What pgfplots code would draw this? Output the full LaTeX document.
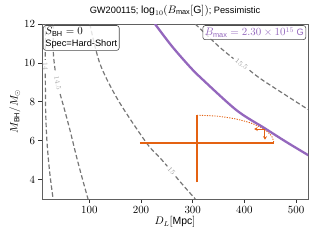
\documentclass[border=0pt]{standalone}
\usepackage{pgfplots}
\pgfplotsset{compat=1.18}
\usepackage{fontspec}
\setmainfont{Liberation Sans}
\usetikzlibrary{arrows.meta}
\definecolor{mpurple}{RGB}{148,103,189}
\definecolor{morange}{RGB}{228,98,18}
\definecolor{cgray}{RGB}{118,118,118}
\newcommand{\mm}[1]{{\fontsize{10.5}{12}\selectfont$#1$}}
\begin{document}
\begin{tikzpicture}
\useasboundingbox (-42bp,-41bp) rectangle (278bp,199bp);
\begin{axis}[
 at={(0,0)}, anchor=south west,
 scale only axis, width=266bp, height=175bp,
 xmin=8.5, xmax=523, ymin=3, ymax=12,
 xtick={100,200,300,400,500}, ytick={4,6,8,10,12},
 tick align=outside, tick pos=left,
 major tick length=3.5bp,
 axis line style={gray!75!black, line width=0.8pt},
 tick style={gray!40!black, line width=0.6pt},
 ticklabel style={font=\fontsize{10.5}{12}\selectfont},
 xlabel={$D_L[\mathrm{Mpc}]$}, ylabel={$M_{\mathrm{BH}}/M_\odot$},
 label style={font=\fontsize{10.5}{12}\selectfont},
 xlabel style={at={(axis description cs:0.5,-0.13)}, anchor=center},
 ylabel style={at={(axis description cs:-0.1015,0.5)}, anchor=center},
 title={GW200115; \mm{\log_{10}(B_{\max}[\mathrm{G}])}; Pessimistic},
 title style={font=\fontsize{9.3}{11}\selectfont, at={(axis description cs:0.5,1)}, anchor=south, yshift=0bp, inner sep=2bp},
 cstyle/.style={cgray, line width=1.2pt, dash pattern=on 4.5bp off 2.5bp, smooth},
]
% contours (broken where labels sit)
\addplot[cstyle] coordinates {(15.5,12) (14.9,10.8) (14.8,10.15)};
\addplot[cstyle] coordinates {(14.8,9.45) (15.0,9) (15.5,7.6) (17.5,6.2) (21,5) (25,4) (30,3)};
\addplot[cstyle] coordinates {(31,12) (30,11) (31,10.3) (34.5,9.5)};
\addplot[cstyle] coordinates {(43.5,8.4) (52.4,7.56) (63,6.5) (75,5.2) (86,4.1) (97.5,3)};
\addplot[cstyle] coordinates {(101,12) (120.7,9.95) (156,8.07) (211,5.87) (236.7,5.12) (251,4.68)};
\addplot[cstyle] coordinates {(267,4.16) (285,3.6) (305,3)};
\addplot[cstyle] coordinates {(305,12) (349.5,10.87) (379,10.22)};
\addplot[cstyle] coordinates {(410,9.62) (436.5,9.09) (520.4,7.65) (525,7.58)};
% contour labels
\node[font=\fontsize{7.5}{8}\selectfont, text=gray!70, inner sep=0pt, rotate=-88] at (axis cs:15,9.8) {$14$};
\node[font=\fontsize{7.5}{8}\selectfont, text=gray!70, inner sep=0pt, rotate=-79] at (axis cs:39,8.95) {$14.5$};
\node[font=\fontsize{7.5}{8}\selectfont, text=gray!85, inner sep=0pt, rotate=-49] at (axis cs:259,4.42) {$15$};
\node[font=\fontsize{7.5}{8}\selectfont, text=gray!85, inner sep=0pt, rotate=-38] at (axis cs:394.5,9.93) {$15.5$};
% orange estimate
\addplot[morange, line width=1.8pt] coordinates {(198,5.9) (457,5.9)};
\addplot[morange, line width=1.8pt] coordinates {(308,3.86) (308,7.31)};
\addplot[morange, line width=0.9pt, dash pattern=on 1.2bp off 1.3bp, smooth] coordinates {
(308,7.31) (346.6,7.262) (382.5,7.121) (413.4,6.897) (437.0,6.605) (451.9,6.265) (457,5.9)};
% purple B_max line
\addplot[mpurple, line width=2.3pt, smooth] coordinates {
(227,12) (260,10.85) (294.8,9.79) (317.4,9.19) (385,7.56) (439.8,6.63) (480,5.95) (522.4,5.27) (530,5.15)};
% arrows
\addplot[morange, line width=1pt, -{Stealth[length=3.5bp,width=4bp]}] coordinates {(439.8,6.6) (419,6.6)};
\addplot[morange, line width=1pt, -{Stealth[length=3.5bp,width=4bp]}] coordinates {(439.8,6.6) (439.8,6.05)};
% boxes
\node[anchor=north west, draw=gray!60!black, rounded corners=2.5bp, fill=white, fill opacity=0.8, text opacity=1, align=left, inner sep=2bp, line width=0.6pt, font=\fontsize{9.3}{11.5}\selectfont] at (rel axis cs:0.004,0.993) {\mm{S_{\mathrm{BH}}=0}\\Spec=Hard-Short};
\node[anchor=north east, draw=gray!60!black, rounded corners=2.5bp, fill=white, fill opacity=0.8, text opacity=1, text=mpurple, inner sep=2bp, line width=0.6pt, font=\fontsize{9.3}{11.5}\selectfont] at (rel axis cs:0.993,0.993) {\mm{B_{\max}=2.30\times10^{15}} G};
\end{axis}
\end{tikzpicture}
\end{document}
